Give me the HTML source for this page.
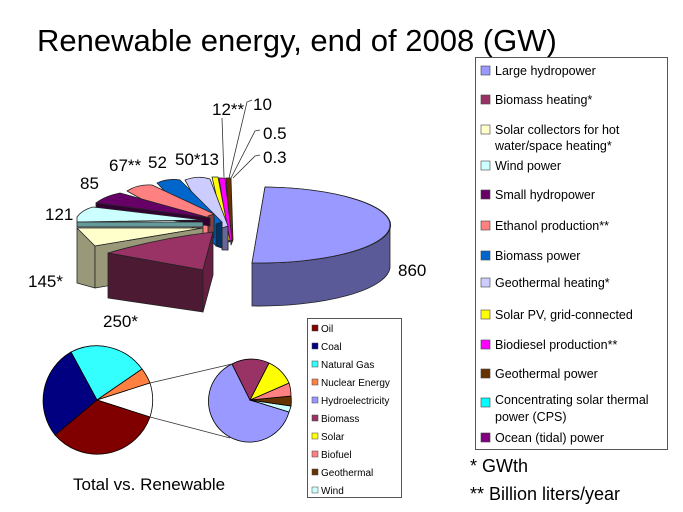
<!DOCTYPE html>
<html><head><meta charset="utf-8"><style>
html,body{margin:0;padding:0;background:#fff}
svg{display:block;font-family:"Liberation Sans",sans-serif}
</style></head><body>
<svg width="683" height="512" viewBox="0 0 683 512" xmlns="http://www.w3.org/2000/svg">
<text x="37" y="51" font-size="31">Renewable energy, end of 2008 (GW)</text>

<g stroke="#222" stroke-width="0.8" stroke-linejoin="round">
<!-- small slices back -->
<polygon points="226,178 231,178 233,240 231,245" fill="#663300"/>
<polygon points="219,178 225,178 232,240 229,242" fill="#ff00ff"/>
<polygon points="212,177 218,177 230,240 227,242" fill="#ffff00"/>
<!-- geothermal heating -->
<path d="M185,180 Q198,175 210,179 L228,226 L228,250 L222,248 Z" fill="#ccccff"/>
<polygon points="228,226 222,228 222,250 228,250" fill="#666699"/>
<!-- biomass power -->
<path d="M157,183 Q168,178 180,180 L222,222 L222,248 L216,246 Z" fill="#0066cc"/>
<polygon points="222,222 216,224 216,246 222,248" fill="#003366"/>
<!-- ethanol -->
<path d="M127,191 Q138,184 152,185 L214,214 L214,238 L208,236 Z" fill="#ff8080"/>
<polygon points="214,214 208,216 208,236 214,238" fill="#884040"/>
<!-- small hydro -->
<path d="M96,203 L96,209 L210,226 L210,218 Z" fill="#330033"/>
<path d="M96,203 Q105,196 120,193 L210,218 Z" fill="#660066"/>
<!-- wind -->
<path d="M77,217 Q82,210 93,207 L203,220 L77,222 Z" fill="#ccffff"/>
<polygon points="77,222 203,222 203,227 77,227" fill="#669999"/>
<!-- solar collectors -->
<path d="M77,228 L203,228 L95,246 Q82,238 77,228 Z" fill="#ffffcc"/>
<polygon points="77,228 95,246 95,288 77,283" fill="#99997a"/>
<polygon points="95,246 203,228 203,270 95,288" fill="#99997a"/>
<!-- biomass heating -->
<path d="M108,253 Q160,238 213,232 L203,270 Z" fill="#993366"/>
<polygon points="108,253 203,270 203,312 108,298" fill="#4d1a33"/>
<polygon points="203,270 213,232 213,275 203,312" fill="#661f40"/>
<!-- large hydro -->
<path d="M252,263 L252,306 A132,40 0 0 0 390,268 L390,225 A132,40 0 0 1 252,263 Z" fill="#5a5a99"/>
<path d="M265,187 A132,38 0 0 1 252,263 Z" fill="#9999ff"/>
<path d="M265,187 A132,38 0 0 1 390,225 A132,38 0 0 1 252,263 Z" fill="#9999ff"/>
</g>

<g stroke="#333" stroke-width="0.8" fill="none">
<line x1="222" y1="118" x2="224" y2="177"/>
<polyline points="252,100 247,102 229,178"/>
<polyline points="260,130 255,131 231,178"/>
<polyline points="260,155 255,156 233,178"/>
</g>
<g font-size="17" fill="#000">
<text x="398" y="276">860</text>
<text x="103" y="327">250*</text>
<text x="28" y="287">145*</text>
<text x="45" y="220">121</text>
<text x="80" y="189">85</text>
<text x="109" y="171">67**</text>
<text x="148" y="168">52</text>
<text x="175" y="165">50*</text>
<text x="200" y="165">13</text>
<text x="212" y="115">12**</text>
<text x="253" y="110">10</text>
<text x="263" y="139">0.5</text>
<text x="263" y="163">0.3</text>
</g>

<!-- big legend -->
<rect x="475.5" y="57.5" width="192" height="392" fill="#fff" stroke="#555"/>
<g font-size="12.5" stroke="#444" stroke-width="0.6">
<rect x="481" y="66" width="9" height="9" fill="#9999ff"/>
<rect x="481" y="95" width="9" height="9" fill="#993366"/>
<rect x="481" y="125" width="9" height="9" fill="#ffffcc"/>
<rect x="481" y="161" width="9" height="9" fill="#ccffff"/>
<rect x="481" y="190" width="9" height="9" fill="#660066"/>
<rect x="481" y="221" width="9" height="9" fill="#ff8080"/>
<rect x="481" y="251" width="9" height="9" fill="#0066cc"/>
<rect x="481" y="278" width="9" height="9" fill="#ccccff"/>
<rect x="481" y="310" width="9" height="9" fill="#ffff00"/>
<rect x="481" y="340" width="9" height="9" fill="#ff00ff"/>
<rect x="481" y="369" width="9" height="9" fill="#663300"/>
<rect x="481" y="398" width="9" height="9" fill="#00ffff"/>
<rect x="481" y="433" width="9" height="9" fill="#800080"/>
</g>
<g font-size="12.5" fill="#000">
<text x="495" y="75">Large hydropower</text>
<text x="495" y="104">Biomass heating*</text>
<text x="495" y="134">Solar collectors for hot</text>
<text x="495" y="150">water/space heating*</text>
<text x="495" y="170">Wind power</text>
<text x="495" y="199">Small hydropower</text>
<text x="495" y="230">Ethanol production**</text>
<text x="495" y="260">Biomass power</text>
<text x="495" y="287">Geothermal heating*</text>
<text x="495" y="319">Solar PV, grid-connected</text>
<text x="495" y="349">Biodiesel production**</text>
<text x="495" y="378">Geothermal power</text>
<text x="495" y="404">Concentrating solar thermal</text>
<text x="495" y="421">power (CPS)</text>
<text x="495" y="442">Ocean (tidal) power</text>
</g>
<text x="470" y="472" font-size="18">* GWth</text>
<text x="470" y="500" font-size="18">** Billion liters/year</text>

<!-- small pies -->
<g stroke="#000" stroke-width="0.8">
<path d="M97,400 L71,352 A56,56 0 0 1 142,369 Z" fill="#33ffff"/>
<path d="M97,400 L142,369 A56,56 0 0 1 150,383 Z" fill="#ff8040"/>
<path d="M97,400 L150,383 A56,56 0 0 1 150,417 Z" fill="#fff"/>
<path d="M97,400 L150,417 A56,56 0 0 1 55,435 Z" fill="#800000"/>
<path d="M97,400 L55,435 A56,56 0 0 1 71,352 Z" fill="#000080"/>
</g>
<g stroke="#000" stroke-width="0.8">
<path d="M250,400 L232,364 A41,41 0 1 0 289,412 Z" fill="#9999ff"/>
<path d="M250,400 L289,412 A41,41 0 0 0 291,406 Z" fill="#ccffff"/>
<path d="M250,400 L291,406 A41,41 0 0 0 291,396 Z" fill="#663300"/>
<path d="M250,400 L291,396 A41,41 0 0 0 289,383 Z" fill="#ff8080"/>
<path d="M250,400 L289,383 A41,41 0 0 0 269,363 Z" fill="#ffff00"/>
<path d="M250,400 L269,363 A41,41 0 0 0 232,364 Z" fill="#993366"/>
</g>
<g stroke="#333" stroke-width="0.8">
<line x1="150" y1="383" x2="232" y2="364"/>
<line x1="150" y1="417" x2="230" y2="438"/>
</g>
<text x="73" y="490" font-size="17">Total vs. Renewable</text>

<rect x="307.5" y="318.5" width="94" height="179" fill="#fff" stroke="#555"/>
<g stroke="#444" stroke-width="0.5">
<rect x="312" y="325" width="6" height="6" fill="#800000"/>
<rect x="312" y="343" width="6" height="6" fill="#000080"/>
<rect x="312" y="361" width="6" height="6" fill="#33ffff"/>
<rect x="312" y="379" width="6" height="6" fill="#ff8040"/>
<rect x="312" y="397" width="6" height="6" fill="#9999ff"/>
<rect x="312" y="415" width="6" height="6" fill="#993366"/>
<rect x="312" y="433" width="6" height="6" fill="#ffff00"/>
<rect x="312" y="451" width="6" height="6" fill="#ff8080"/>
<rect x="312" y="469" width="6" height="6" fill="#663300"/>
<rect x="312" y="487" width="6" height="6" fill="#ccffff"/>
</g>
<g font-size="10" fill="#000">
<text x="321" y="332">Oil</text>
<text x="321" y="350">Coal</text>
<text x="321" y="368">Natural Gas</text>
<text x="321" y="386">Nuclear Energy</text>
<text x="321" y="404">Hydroelectricity</text>
<text x="321" y="422">Biomass</text>
<text x="321" y="440">Solar</text>
<text x="321" y="458">Biofuel</text>
<text x="321" y="476">Geothermal</text>
<text x="321" y="494">Wind</text>
</g>
</svg>
</body></html>
